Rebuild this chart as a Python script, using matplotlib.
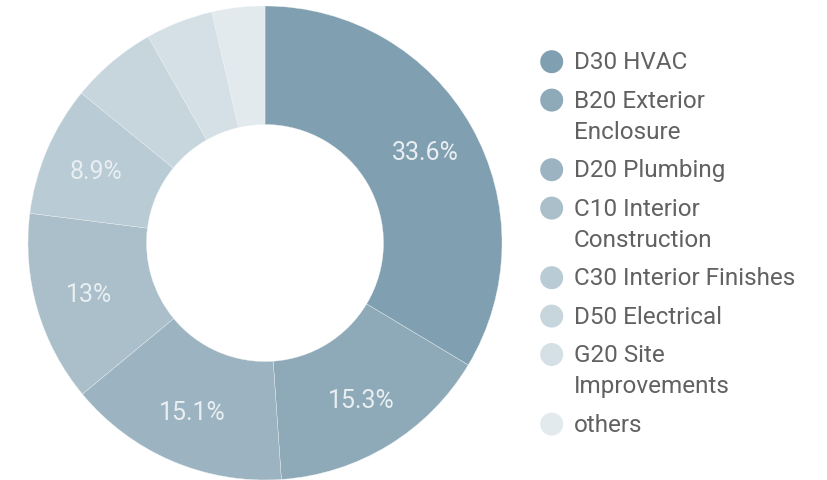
import matplotlib
matplotlib.use("Agg")
import matplotlib.pyplot as plt

categories = ["D30 HVAC", "B20 Exterior\nEnclosure", "D20 Plumbing", "C10 Interior\nConstruction",
              "C30 Interior Finishes", "D50 Electrical", "G20 Site\nImprovements", "others"]
values = [33.6, 15.3, 15.1, 13.0, 8.9, 5.9, 4.6, 3.6]
pct_labels = ["33.6%", "15.3%", "15.1%", "13%", "8.9%", "", "", ""]
colors = ["#809fb0", "#8eaab9", "#9cb4c1", "#aabfca", "#b9cbd4", "#c7d5dd", "#d5e0e6", "#e3eaee"]

plt.rcParams['font.family'] = ['Roboto', 'DejaVu Sans']

W, H = 827, 481
fig = plt.figure(figsize=(W / 100, H / 100), dpi=100)
cx, cy, R = 265, 244, 237
ax = fig.add_axes([(cx - R) / W, (H - cy - R) / H, 2 * R / W, 2 * R / H])

ring = 0.50
wedges, texts = ax.pie(values, colors=colors, startangle=90, counterclock=False,
                       radius=1.0, labels=pct_labels, labeldistance=0.775,
                       wedgeprops=dict(width=ring, linewidth=0.25, edgecolor="#eef2f4"),
                       textprops=dict(color="#e8eef1", fontsize=18, ha='center', va='center'))
for t in texts:
    t.set_ha('center')
    t.set_va('center')
ax.set_xlim(-1, 1)
ax.set_ylim(-1, 1)
ax.set_aspect('equal')
ax.axis('off')

# legend
y = 62.7
line_h, gap = 31.2, 7.2
for cat, col in zip(categories, colors):
    fig.add_artist(matplotlib.patches.Ellipse((551.7 / W, 1 - y / H), 23 / W, 23 / H,
                                              transform=fig.transFigure, color=col, lw=0))
    for line in cat.split("\n"):
        fig.text(574 / W, 1 - y / H, line, color="#616161", fontsize=17.5, ha='left', va='center')
        y += line_h
    y += gap

fig.savefig("out.png", dpi=100)
